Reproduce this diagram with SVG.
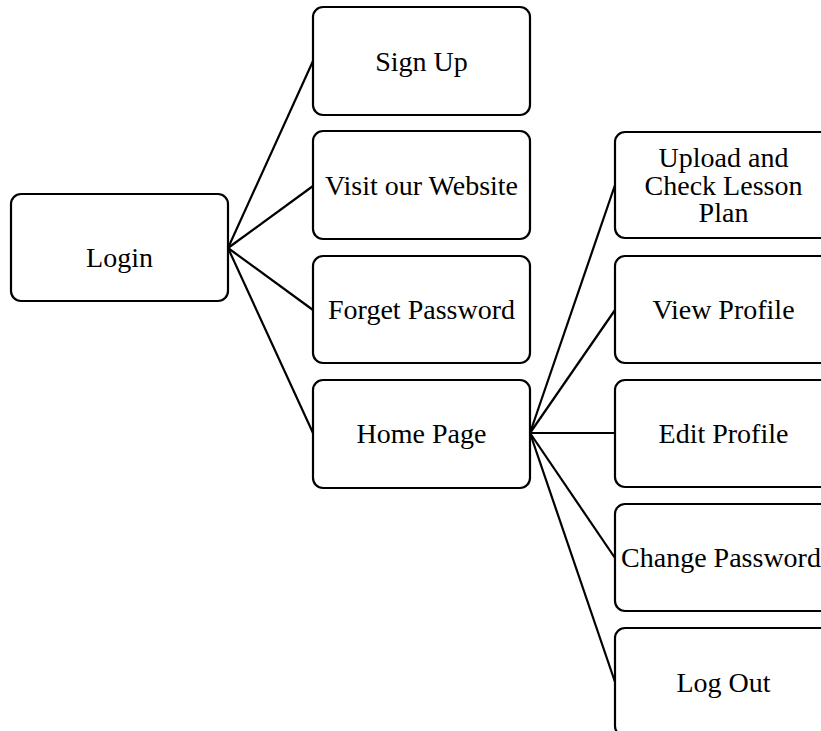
<svg xmlns="http://www.w3.org/2000/svg" width="821" height="731" viewBox="0 0 821 731">
<style>
.box{fill:#fff;stroke:#000;stroke-width:2.2}
.lbl{font-family:'Liberation Serif',Tinos,'Times New Roman',Times,'DejaVu Serif',serif;font-size:28px;fill:#000;text-anchor:middle}
.con line{stroke:#000;stroke-width:2.2}
</style>
<rect width="821" height="731" fill="#fff"/>
<g class="con" id="connectors">
<line x1="228" y1="248" x2="313" y2="61"/>
<line x1="228" y1="248" x2="313" y2="186"/>
<line x1="228" y1="248" x2="313" y2="310"/>
<line x1="228" y1="248" x2="313" y2="433"/>
<line x1="530" y1="433" x2="615" y2="185"/>
<line x1="530" y1="433" x2="615" y2="310"/>
<line x1="530" y1="433" x2="615" y2="433"/>
<line x1="530" y1="433" x2="615" y2="558"/>
<line x1="530" y1="433" x2="615" y2="682"/>
</g>
<g id="login"><rect class="box" x="11" y="194" width="217" height="107" rx="10"/><text class="lbl" font-family="Liberation Serif, serif" x="119.5" y="267">Login</text></g>
<g id="signup"><rect class="box" x="313" y="7" width="217" height="108" rx="10"/><text class="lbl" font-family="Liberation Serif, serif" x="421.5" y="71">Sign Up</text></g>
<g id="website"><rect class="box" x="313" y="131" width="217" height="108" rx="10"/><text class="lbl" font-family="Liberation Serif, serif" x="421.5" y="195">Visit our Website</text></g>
<g id="forget"><rect class="box" x="313" y="256" width="217" height="107" rx="10"/><text class="lbl" font-family="Liberation Serif, serif" x="421.5" y="319">Forget Password</text></g>
<g id="home"><rect class="box" x="313" y="380" width="217" height="108" rx="10"/><text class="lbl" font-family="Liberation Serif, serif" x="421.5" y="443">Home Page</text></g>
<g id="upload"><rect class="box" x="615" y="132" width="217" height="106" rx="10"/><text class="lbl" font-family="Liberation Serif, serif" x="723.5" y="167">Upload and</text><text class="lbl" font-family="Liberation Serif, serif" x="723.5" y="194.5">Check Lesson</text><text class="lbl" font-family="Liberation Serif, serif" x="723.5" y="222">Plan</text></g>
<g id="view"><rect class="box" x="615" y="256" width="217" height="107" rx="10"/><text class="lbl" font-family="Liberation Serif, serif" x="723.5" y="319">View Profile</text></g>
<g id="edit"><rect class="box" x="615" y="380" width="217" height="107" rx="10"/><text class="lbl" font-family="Liberation Serif, serif" x="723.5" y="443">Edit Profile</text></g>
<g id="change"><rect class="box" x="615" y="504" width="217" height="107" rx="10"/><text class="lbl" font-family="Liberation Serif, serif" x="721" y="567">Change Password</text></g>
<g id="logout"><rect class="box" x="615" y="628" width="217" height="108" rx="10"/><text class="lbl" font-family="Liberation Serif, serif" x="723.5" y="692">Log Out</text></g>
</svg>
